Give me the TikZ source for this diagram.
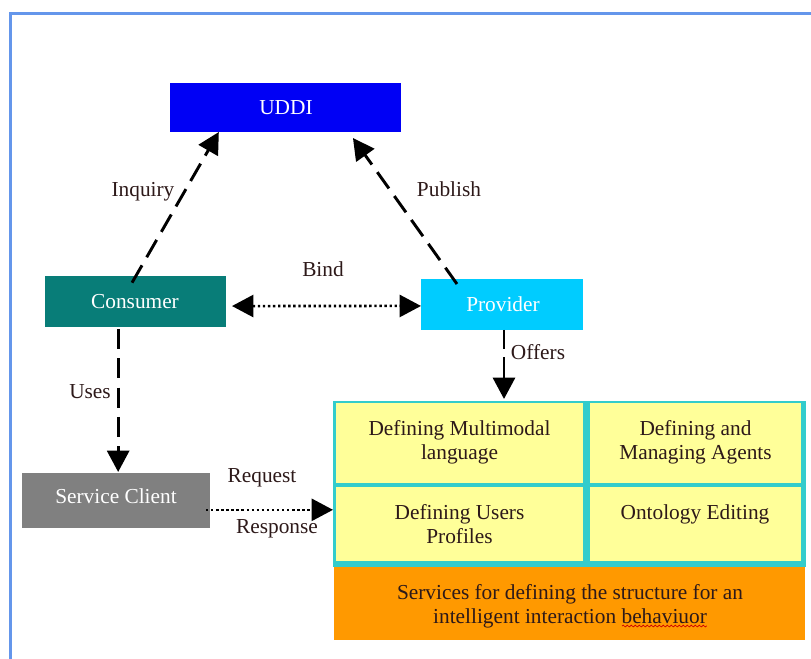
\documentclass[tikz,border=0pt]{standalone}
\usepackage{fontspec}
\setmainfont{Liberation Serif}
\usetikzlibrary{arrows.meta,decorations.pathmorphing}
\definecolor{frameblue}{RGB}{100,150,235}
\definecolor{uddiblue}{RGB}{0,0,245}
\definecolor{consteal}{RGB}{8,125,120}
\definecolor{provcyan}{RGB}{0,204,255}
\definecolor{clientgrey}{RGB}{128,128,128}
\definecolor{gridteal}{RGB}{51,204,204}
\definecolor{cellyellow}{RGB}{255,255,153}
\definecolor{servorange}{RGB}{255,153,0}
\definecolor{inktext}{RGB}{45,25,25}
\tikzset{
  x=0.75pt,y=-0.75pt,
  txt/.style={font=\fontsize{16}{18}\selectfont,inner sep=0pt,outer sep=0pt,anchor=base,text=inktext},
  whitetxt/.style={txt,text=white},
  multi/.style={txt,align=center,anchor=center},
  box/.style={draw=none,inner sep=0pt,outer sep=0pt,minimum width=#1*0.75pt},
  tipA/.style={-{Triangle[length=16pt,width=16.5pt]}},
  dashlink/.style={line width=2.2pt,dash pattern=on 15pt off 7pt},
  dotlink/.style={line width=1.9pt,dash pattern=on 1.8pt off 2pt},
}
\begin{document}
\begin{tikzpicture}
\useasboundingbox (0,0) rectangle (811,659);
\draw[frameblue,line width=1.6pt] (10.5,659) |- (811,13.5);

% boxes
\node[box=231,minimum height=36.75pt,fill=uddiblue] (uddi) at (285.5,107.5) {};
\node[box=181,minimum height=38.25pt,fill=consteal] (cons) at (135.5,301.5) {};
\node[box=162,minimum height=38.25pt,fill=provcyan] (prov) at (502,304.5) {};
\node[box=188,minimum height=41.25pt,fill=clientgrey] (client) at (116,500.5) {};

% services grid
\node[box=473,minimum height=124.5pt,fill=gridteal] (grid) at (569.5,484) {};
\node[box=247,minimum height=60pt,fill=cellyellow] (c1) at (459.5,443) {};
\node[box=211,minimum height=60pt,fill=cellyellow] (c2) at (695.5,443) {};
\node[box=247,minimum height=55.5pt,fill=cellyellow] (c3) at (459.5,524) {};
\node[box=211,minimum height=55.5pt,fill=cellyellow] (c4) at (695.5,524) {};
\node[box=471,minimum height=54.75pt,fill=servorange] (serv) at (569.5,603.5) {};

% box texts
\node[whitetxt] (tu) at (286,115) {UDDI};
\node[whitetxt] (tc) at (135,309) {Consumer};
\node[whitetxt] (tp) at (503,312) {Provider};
\node[whitetxt] (ts) at (116,503.5) {Service Client};
\node[multi] (t1) at (459.5,442) {Defining Multimodal\\language};
\node[multi] (t2) at (695.5,442) {Defining and\\Managing Agents};
\node[multi] (t3) at (459.5,524) {Defining Users\\Profiles};
\node[txt] (t4) at (695,519) {Ontology Editing};
\node[multi] (t5) at (570,606) {Services for defining the structure for an\\intelligent interaction behaviuor};
\draw[red!80!black,line width=0.5pt,decorate,decoration={snake,amplitude=0.7pt,segment length=3pt,pre length=0pt,post length=0pt}]
  ([xshift=39.4pt,yshift=-16.9pt]serv.center) -- ([xshift=103pt,yshift=-16.9pt]serv.center) ;

% connector labels
\node[txt] (lq) at (143,196.5) {Inquiry};
\node[txt] (lp) at (449,196.5) {Publish};
\node[txt] (lb) at (323,277) {Bind};
\node[txt] (lo) at (538,360) {Offers};
\node[txt] (lu) at (90,399) {Uses};
\node[txt] (lr) at (262,483) {Request};
\node[txt] (le) at (277,533) {Response};

% connectors
\draw[dashlink,tipA] ([xshift=-2.6pt,yshift=-5pt]cons.north) -- ([xshift=-50pt]uddi.south);
\draw[dashlink,tipA] ([xshift=-33.75pt,yshift=-3.75pt]prov.north) -- ([xshift=50.6pt,yshift=-4.5pt]uddi.south);
\draw[dashlink,tipA] ([xshift=-13pt,yshift=-1.5pt]cons.south) -- ([xshift=-13pt,yshift=0.75pt]cons.south |- client.north);
\draw[line width=2.2pt,dash pattern=on 14pt off 6.5pt on 60pt off 1pt,tipA] ([xshift=1.5pt]prov.south) -- ([xshift=1.5pt,yshift=1.5pt]prov.south |- grid.north);
\draw[dotlink,{Triangle[length=16pt,width=16.5pt]}-{Triangle[length=16pt,width=16.5pt]}]
  ([xshift=4.5pt,yshift=-3.4pt]cons.east) -- ([yshift=-1.1pt]prov.west);
\draw[dotlink,tipA] ([xshift=-3pt,yshift=-7pt]client.east) -- ([yshift=-7pt]client.east -| grid.west);
\end{tikzpicture}
\end{document}
